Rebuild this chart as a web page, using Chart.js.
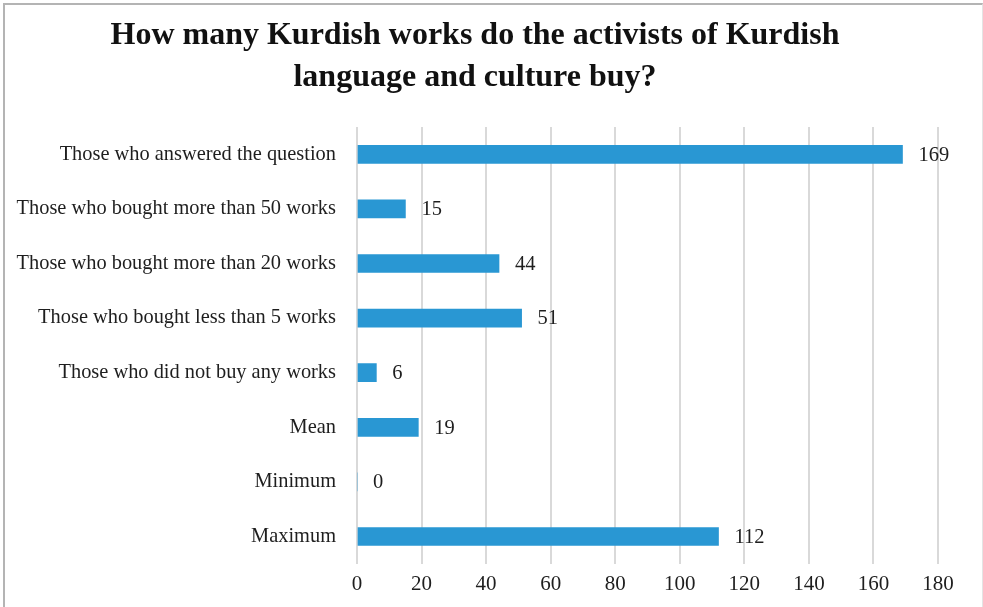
<!DOCTYPE html>
<html>
<head>
<meta charset="utf-8">
<script src="https://cdn.jsdelivr.net/npm/chart.js@4.4.1/dist/chart.umd.min.js"></script>
<style>
    html, body { margin: 0; padding: 0; background: #fff; }
    #wrap { position: relative; width: 983px; height: 607px; }
    #frame {
        position: absolute; left: 3px; top: 3px; right: 0; bottom: -4px;
        border-top: 2px solid #b4b4b4; border-left: 2px solid #b4b4b4;
        border-right: 1px solid #e4e4e4; pointer-events: none;
    }
</style>
</head>
<body>
<div id="wrap">
    <canvas id="chart-bar" width="983" height="607"></canvas>
    <div id="frame"></div>
</div>
<script>
// Survey answers
const categories = [
    'Those who answered the question',
    'Those who bought more than 50 works',
    'Those who bought more than 20 works',
    'Those who bought less than 5 works',
    'Those who did not buy any works',
    'Mean',
    'Minimum',
    'Maximum'
];
const counts = [169, 15, 44, 51, 6, 19, 0, 112];
const xTicks = [0, 20, 40, 60, 80, 100, 120, 140, 160, 180];

const titleLines = [
    'How many Kurdish works do the activists of Kurdish',
    'language and culture buy?'
];

// Write the value just after the end of each bar
const valueLabels = {
    id: 'valueLabels',
    afterDatasetsDraw(chart) {
        const ctx = chart.ctx;
        const meta = chart.getDatasetMeta(0);
        ctx.save();
        ctx.font = '20.5px "Liberation Serif", serif';
        ctx.fillStyle = '#1e1e1e';
        ctx.textAlign = 'left';
        ctx.textBaseline = 'middle';
        meta.data.forEach((bar, i) => {
            ctx.fillText(String(counts[i]), bar.x + 16, bar.y + 1);
        });
        ctx.restore();
    }
};

const ctx = document.getElementById('chart-bar').getContext('2d');
new Chart(ctx, {
    type: 'bar',
    data: {
        labels: categories,
        datasets: [{
            data: counts,
            backgroundColor: '#2997d3',
            borderWidth: 0,
            barThickness: 18
        }]
    },
    options: {
        indexAxis: 'y',
        responsive: false,
        animation: false,
        layout: {
            padding: { left: 12, right: 45, top: 0, bottom: 2 }
        },
        plugins: {
            legend: { display: false },
            tooltip: { enabled: false },
            title: {
                display: true,
                text: titleLines,
                color: '#111',
                font: { family: '"Liberation Serif", serif', size: 32, weight: 'bold', lineHeight: 1.3125 },
                padding: { top: 15, bottom: 28 }
            }
        },
        scales: {
            x: {
                min: 0,
                max: 180,
                afterBuildTicks: scale => {
                    scale.ticks = xTicks.map(v => ({ value: v }));
                },
                grid: {
                    color: '#d9d9d9',
                    lineWidth: 2,
                    drawTicks: false
                },
                border: { display: false },
                ticks: {
                    color: '#1e1e1e',
                    padding: 8,
                    font: { family: '"Liberation Serif", serif', size: 21 }
                }
            },
            y: {
                grid: { display: false, drawTicks: false },
                border: { display: false },
                afterFit: scale => { scale.width = 345; },
                ticks: {
                    color: '#1e1e1e',
                    padding: 21,
                    autoSkip: false,
                    font: { family: '"Liberation Serif", serif', size: 20.4 }
                }
            }
        }
    },
    plugins: [valueLabels]
});
</script>
</body>
</html>
